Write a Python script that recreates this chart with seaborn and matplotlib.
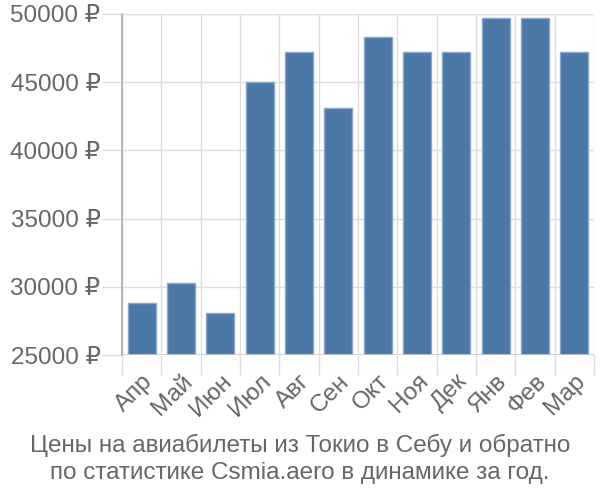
import matplotlib
matplotlib.use("Agg")
import matplotlib.pyplot as plt
import seaborn as sns
import pandas as pd
import numpy as np

months = ["Апр", "Май", "Июн", "Июл", "Авг", "Сен", "Окт", "Ноя", "Дек", "Янв", "Фев", "Мар"]
prices = [28800, 30300, 28100, 45000, 47200, 43100, 48300, 47200, 47200, 49700, 49700, 47200]
yticks = [25000, 30000, 35000, 40000, 45000, 50000]
title = "Цены на авиабилеты из Токио в Себу и обратно\nпо статистике Csmia.aero в динамике за год."

sns.set_theme(style="white")
plt.rcParams['font.family'] = ['Liberation Sans', 'DejaVu Sans']

df = pd.DataFrame({"month": months, "price": prices})

fig = plt.figure(figsize=(6, 5), dpi=100)
ax = fig.add_axes([122/600, 1-355/500, (594-122)/600, (355-14)/500])

sns.barplot(data=df, x="month", y="price", ax=ax, color="#4c78a8", saturation=1,
            width=0.72, edgecolor="#8aa6c8", linewidth=1, zorder=3)

ax.set_ylim(25000, 50000)
ax.set_xlim(-0.5, len(months) - 0.5)
ax.set_yticks(yticks)
ax.set_yticklabels([f"{v} ₽" for v in yticks])
ax.set_xlabel("")
ax.set_ylabel("")

gridc = "#dddddd"
ax.set_xticks(np.arange(-0.5, len(months), 1.0), minor=True)
ax.grid(True, axis="y", which="major", color=gridc, linewidth=1, zorder=0)
ax.grid(True, axis="x", which="minor", color=gridc, linewidth=1, zorder=0)
ax.grid(False, axis="x", which="major")
ax.tick_params(axis="y", which="major", length=14.4, color=gridc, width=1, pad=1,
               labelsize=17.5, labelcolor="#666666", left=True)
ax.tick_params(axis="x", which="minor", length=14.4, color=gridc, width=1, bottom=True)
ax.tick_params(axis="x", which="major", length=0, pad=11, labelsize=17.5, labelcolor="#666666")
for lab in ax.get_xticklabels():
    lab.set_rotation(45)
    lab.set_ha("right")
    lab.set_rotation_mode("anchor")

for s in ["top", "right", "bottom"]:
    ax.spines[s].set_visible(False)
ax.spines["left"].set_color("#aaaaaa")
ax.spines["left"].set_linewidth(1.2)
ax.spines["left"].set_zorder(4)
ax.axhline(25000, color="#cccccc", linewidth=1.2, zorder=4)

fig.text(0.5, 1 - 459/500, title, ha="center", va="center", fontsize=17.5,
         color="#666666", linespacing=1.25)

fig.savefig("out.png", dpi=100, facecolor="white")
